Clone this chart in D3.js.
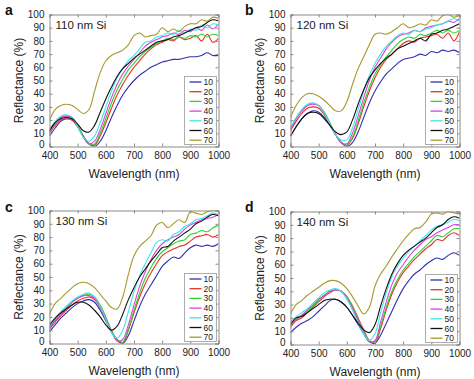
<!DOCTYPE html>
<html>
<head>
<meta charset="utf-8">
<script src="https://cdn.jsdelivr.net/npm/d3@7"></script>
<style>
  html, body { margin: 0; padding: 0; background: #fff; }
  svg { display: block; font-family: "Liberation Sans", Arial, sans-serif; }
</style>
</head>
<body>
<svg id="chart" width="474" height="379"></svg>
<script>
// ---------------- data ----------------
const wavelengths = [400,420,440,460,480,500,520,540,560,580,600,620,640,660,680,700,720,740,760,780,800,820,840,860,880,900,920,940,960,980,1000];
const seriesNames = ["10","20","30","40","50","60","70"];
const seriesColors = ["#2f2fb0","#e8302a","#2ad42a","#e03ee0","#3ee6e6","#111111","#a8982a"];
const xTicks = [400,500,600,700,800,900,1000];
const yTicks = [0,10,20,30,40,50,60,70,80,90,100];
const panelLetters = ["a","b","c","d"];
const panelTitles = ["110 nm Si","120 nm Si","130 nm Si","140 nm Si"];

const reflA = [
  [8,14,19,21,20,15,8,2,0,4,12,22,31,39,45,50,54,57,60,62,64,65,66,66,67,68,68,69,71,69,69],
  [10,16,20,21,20,15,8,2,1,8,18,29,39,47,54,60,65,70,74,77,79,81,80,83,81,82,84,80,85,79,82],
  [11,18,22,23,22,16,8,2,2,10,21,33,43,51,58,63,68,72,75,78,80,82,81,83,82,84,83,85,83,85,84],
  [11,18,22,23,22,15,7,2,4,13,25,37,47,55,61,66,71,76,79,81,83,84,86,85,88,87,90,88,92,89,93],
  [12,19,23,24,22,15,7,4,8,18,30,42,52,59,65,69,74,79,80,83,84,86,85,88,86,89,88,92,90,93,92],
  [12,18,21,22,21,17,12,11,16,26,36,45,53,59,63,67,70,73,76,79,80,81,83,84,86,88,90,91,94,96,95],
  [20,28,31,32,31,28,25,28,42,56,65,69,71,73,77,84,86,83,84,85,90,87,89,87,91,93,93,96,95,98,97]
];
const reflB = [
  [8,15,21,25,27,26,22,16,9,3,0,3,11,22,33,42,49,55,59,63,66,67,68,70,69,72,71,73,72,73,71],
  [12,19,25,29,30,29,24,17,9,3,1,6,17,30,42,52,60,66,70,74,78,80,79,82,83,84,85,82,86,80,87],
  [14,21,27,31,33,31,26,18,9,3,1,7,19,33,45,55,62,68,73,78,81,83,82,85,84,86,88,86,88,86,88],
  [13,21,27,31,32,31,25,17,9,3,2,10,23,37,50,60,67,74,79,83,85,86,88,87,90,91,92,93,95,94,97],
  [14,22,28,32,33,31,25,17,9,5,5,14,28,42,54,63,70,76,80,84,86,85,88,87,89,90,92,93,95,97,95],
  [8,15,21,25,26,25,21,16,11,9,11,20,32,43,52,58,63,67,70,74,76,78,80,82,80,85,86,88,89,91,93],
  [22,31,37,40,40,38,35,31,27,27,34,47,59,68,77,85,86,85,87,90,93,90,91,93,92,96,95,99,100,98,99]
];
const reflC = [
  [9,14,19,23,27,30,32,33,31,25,17,9,3,0,6,17,28,37,44,51,58,62,65,64,68,72,74,73,74,73,75],
  [11,16,21,25,29,32,34,35,33,27,18,9,2,0,10,23,35,45,53,60,66,69,71,73,74,77,80,81,82,80,82],
  [12,18,23,27,31,34,36,37,35,29,20,10,3,1,11,25,38,49,57,64,69,72,75,77,78,82,83,85,84,87,89],
  [12,17,22,27,31,34,36,36,34,28,19,9,2,3,14,29,43,54,63,70,75,78,80,82,86,89,91,93,94,95,97],
  [13,19,24,28,32,35,37,38,35,28,18,8,4,10,24,39,51,60,68,76,78,77,82,84,88,90,93,94,96,98,97],
  [14,19,23,26,29,31,31,29,25,20,14,10,13,22,33,42,50,56,62,67,72,73,77,80,83,86,90,92,95,97,96],
  [22,30,34,38,42,45,46,45,42,37,32,27,26,35,52,66,73,77,81,89,91,87,90,93,91,99,98,97,99,100,100]
];
const reflD = [
  [9,13,16,18,21,25,29,33,34,32,28,22,15,8,2,1,7,16,25,34,42,48,53,56,60,63,65,64,67,69,67],
  [13,18,20,24,28,32,36,39,41,40,36,29,20,11,3,1,12,26,38,47,54,59,64,68,72,75,79,78,82,84,82],
  [14,19,22,25,29,33,37,40,41,40,36,28,19,10,3,2,14,28,40,49,56,61,66,70,74,78,82,81,84,87,87],
  [15,19,22,26,30,34,37,40,41,40,35,27,18,9,2,3,17,32,45,54,60,66,71,75,79,81,84,86,88,90,90],
  [17,21,24,27,31,35,39,41,42,40,34,26,16,8,3,8,24,39,51,59,65,70,74,78,82,86,89,90,92,94,93],
  [15,20,21,24,27,30,33,34,34,32,28,22,16,11,9,15,29,42,53,61,67,71,74,77,80,84,88,90,94,96,95],
  [23,30,33,37,40,43,46,48,48,46,42,36,29,23,28,44,53,59,66,72,78,83,87,88,92,98,99,98,100,99,98]
];
const panelData = [reflA, reflB, reflC, reflD];

// ---------------- layout ----------------
const panels = [
  {x0: 49.5, x1: 218.5, y0: 14.5, y1: 146.5, letterX: 5,   letterY: 15},
  {x0: 290.5, x1: 459.5, y0: 14.5, y1: 146.5, letterX: 245, letterY: 15},
  {x0: 49.5, x1: 218.5, y0: 210.5, y1: 343.5, letterX: 5,   letterY: 212},
  {x0: 290.5, x1: 459.5, y0: 211.5, y1: 344.5, letterX: 245, letterY: 212}
];

const svg = d3.select("#chart");

panels.forEach((p, i) => {
  const g = svg.append("g");
  const x = d3.scaleLinear().domain([400, 1000]).range([p.x0, p.x1]);
  const y = d3.scaleLinear().domain([0, 100]).range([p.y1, p.y0]);

  const clipId = "clip" + i;
  svg.append("defs").append("clipPath").attr("id", clipId)
    .append("rect").attr("x", p.x0).attr("y", p.y0)
    .attr("width", p.x1 - p.x0).attr("height", p.y1 - p.y0);

  // lines
  const line = d3.line()
    .x((d, k) => x(wavelengths[k]))
    .y(d => y(d))
    .curve(d3.curveCatmullRom.alpha(0.5));
  const lg = g.append("g").attr("clip-path", `url(#${clipId})`);
  panelData[i].forEach((vals, s) => {
    lg.append("path").datum(vals)
      .attr("d", line)
      .attr("fill", "none")
      .attr("stroke", seriesColors[s])
      .attr("stroke-width", 1.1)
      .attr("stroke-linejoin", "round");
  });

  // axes (ticks inward, box)
  const axisColor = "#8a8a8a";
  const bottom = g.append("g").attr("transform", `translate(0,${p.y1})`)
    .call(d3.axisBottom(x).tickValues(xTicks).tickSize(-3).tickPadding(5).tickFormat(d3.format("d")));
  const top = g.append("g").attr("transform", `translate(0,${p.y0})`)
    .call(d3.axisTop(x).tickValues(xTicks).tickSize(-3).tickFormat(""));
  const left = g.append("g").attr("transform", `translate(${p.x0},0)`)
    .call(d3.axisLeft(y).tickValues(yTicks).tickSize(-3).tickPadding(5).tickFormat(d3.format("d")));
  const right = g.append("g").attr("transform", `translate(${p.x1},0)`)
    .call(d3.axisRight(y).tickValues(yTicks).tickSize(-3).tickFormat(""));
  [bottom, top, left, right].forEach(a => {
    a.select(".domain").attr("stroke", axisColor).attr("stroke-width", 1);
    a.selectAll(".tick line").attr("stroke", axisColor);
    a.selectAll(".tick text").attr("fill", "#222").attr("font-size", 10)
      .attr("font-family", "'Liberation Sans', Arial, sans-serif");
  });
  // lift the "0" y label slightly so it clears the x labels
  left.selectAll(".tick text").filter(d => d === 0).attr("dy", "0.1em");

  // axis labels
  g.append("text")
    .attr("x", (p.x0 + p.x1) / 2).attr("y", p.y1 + 31)
    .attr("text-anchor", "middle").attr("font-size", 12).attr("fill", "#222")
    .text("Wavelength (nm)");
  g.append("text")
    .attr("transform", `translate(${p.x0 - 27},${(p.y0 + p.y1) / 2}) rotate(-90)`)
    .attr("text-anchor", "middle").attr("font-size", 12).attr("fill", "#222")
    .text("Reflectance (%)");

  // panel letter and title
  g.append("text").attr("x", p.letterX).attr("y", p.letterY)
    .attr("font-size", 14).attr("font-weight", "bold").attr("fill", "#111")
    .text(panelLetters[i]);
  g.append("text").attr("x", p.x0 + 6).attr("y", p.y0 + 14)
    .attr("font-size", 11.5).attr("fill", "#222")
    .text(panelTitles[i]);

  // legend
  const lgX = p.x1 - 34, lgY = p.y1 - 70, lgW = 32, lgH = 68;
  const leg = g.append("g");
  leg.append("rect").attr("x", lgX).attr("y", lgY).attr("width", lgW).attr("height", lgH)
    .attr("fill", "#fff").attr("stroke", "#9a9a9a").attr("stroke-width", 0.8);
  seriesNames.forEach((n, s) => {
    const yy = lgY + 5.5 + s * 9.7;
    leg.append("line").attr("x1", lgX + 5).attr("x2", lgX + 17)
      .attr("y1", yy).attr("y2", yy)
      .attr("stroke", seriesColors[s]).attr("stroke-width", 1.3);
    leg.append("text").attr("x", lgX + 19).attr("y", yy + 3)
      .attr("font-size", 8.5).attr("fill", "#222").text(n);
  });
});
</script>
</body>
</html>
